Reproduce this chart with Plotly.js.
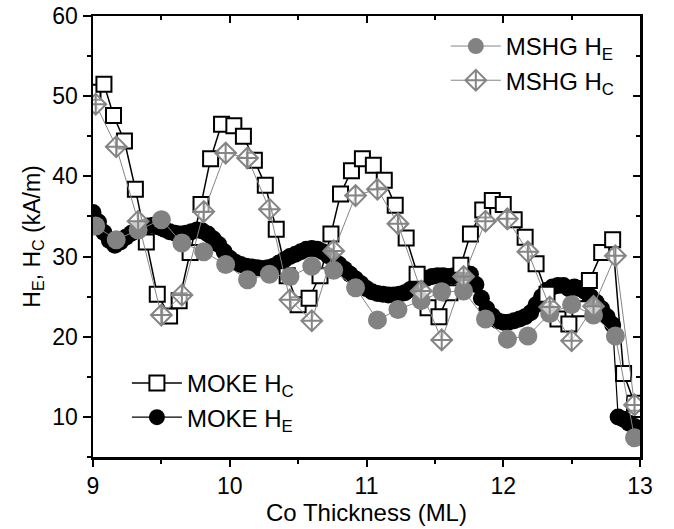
<!DOCTYPE html>
<html>
<head>
<meta charset="utf-8">
<script src="https://cdn.plot.ly/plotly-3.0.1.min.js"></script>
<style>html,body{margin:0;padding:0;background:#fff;}#chart{width:674px;height:529px;}</style>
</head>
<body>
<div id="chart"></div>
<script>
// MOKE H_E (dense black circles)
const mokeHEx = [9.00,9.04,9.08,9.12,9.16,9.20,9.24,9.28,9.32,9.36,9.40,9.44,9.48,9.52,9.56,9.60,9.64,9.68,9.72,9.76,
  9.80,9.84,9.88,9.92,9.96,10.00,10.04,10.08,10.12,10.16,10.20,10.24,10.28,10.32,10.36,10.40,10.44,10.48,10.52,10.56,
  10.60,10.64,10.68,10.72,10.76,10.80,10.84,10.88,10.92,10.96,11.00,11.04,11.08,11.12,11.16,11.20,11.24,11.28,11.32,11.36,
  11.40,11.44,11.48,11.52,11.56,11.60,11.64,11.68,11.72,11.76,11.80,11.84,11.88,11.92,11.96,12.00,12.04,12.08,12.12,12.16,
  12.20,12.24,12.28,12.32,12.36,12.40,12.44,12.48,12.52,12.56,12.60,12.64,12.68,12.72,12.76,12.80,12.84,12.88,12.92,12.96];
const mokeHEy = [35.5,34.3,33.0,32.0,31.4,31.8,32.4,32.9,33.3,33.6,33.8,33.9,33.7,33.4,33.1,32.9,32.8,32.9,33.1,33.3,
  33.2,32.8,32.2,31.5,30.6,29.8,29.3,29.0,28.8,28.7,28.6,28.5,28.6,28.8,29.2,29.6,30.0,30.3,30.6,30.9,
  31.0,30.9,30.6,30.1,29.6,29.0,28.4,27.8,27.2,26.6,26.0,25.6,25.4,25.3,25.2,25.2,25.3,25.5,25.9,26.4,
  27.0,27.3,27.5,27.6,27.6,27.5,27.6,27.8,28.0,27.8,26.5,24.8,23.5,22.6,22.0,21.8,21.8,22.0,22.2,22.5,
  23.0,24.0,25.0,25.8,26.2,26.4,26.4,26.0,26.2,26.0,25.6,25.0,24.3,23.5,22.5,21.5,10.0,9.7,9.2,8.8];

// MOKE H_C (open squares)
const mokeHCx = [9.00,9.08,9.15,9.23,9.31,9.39,9.47,9.56,9.63,9.71,9.79,9.86,9.94,10.03,10.10,10.18,10.26,10.34,10.42,10.50,
  10.58,10.66,10.74,10.81,10.89,10.97,11.05,11.13,11.21,11.29,11.37,11.45,11.53,11.61,11.69,11.76,11.85,11.92,12.00,12.08,
  12.16,12.24,12.32,12.40,12.48,12.56,12.63,12.72,12.80,12.88,12.96];
const mokeHCy = [50.5,51.5,47.6,44.4,38.4,31.8,25.3,22.6,24.5,30.5,36.5,42.2,46.5,46.3,45.0,42.0,38.9,33.4,27.6,24.0,
  24.8,27.6,32.8,37.8,40.7,42.2,41.4,39.5,36.4,32.3,27.8,23.6,22.5,25.5,28.9,32.8,35.8,37.0,36.5,34.6,
  32.4,29.1,25.3,22.2,21.6,23.5,27.0,30.5,32.1,15.4,11.7];

// MSHG (gray) series
const mshgX = [9.02,9.17,9.33,9.50,9.65,9.81,9.97,10.13,10.29,10.44,10.60,10.76,10.92,11.08,11.23,11.40,11.55,11.71,11.87,12.03,
  12.18,12.34,12.50,12.66,12.82,12.96];
const mshgHEy = [33.8,32.1,33.3,34.6,31.7,30.6,29.0,27.1,27.8,27.5,28.8,28.3,26.1,22.1,23.4,24.5,25.6,25.7,22.2,19.7,
  20.1,22.9,24.0,22.7,20.1,7.4];
const mshgHCy = [49.0,43.7,34.4,22.7,25.2,35.6,42.9,42.3,35.9,24.6,22.0,30.7,37.6,38.4,34.1,25.7,19.6,27.5,34.4,34.7,
  30.6,23.7,19.5,23.8,30.1,11.5];

const names = ['MOKE H<sub>E</sub>','MOKE H<sub>C</sub>','MSHG H<sub>E</sub>','MSHG H<sub>C</sub>'];
const gray = '#858585';

const traces = [
  {x: mokeHEx, y: mokeHEy, name: names[0], type:'scatter', mode:'lines+markers', legend:'legend2',
   line:{color:'#000', width:1.2}, marker:{symbol:'circle', size:17, color:'#000'}},
  {x: mokeHCx, y: mokeHCy, name: names[1], type:'scatter', mode:'lines+markers', legend:'legend2',
   line:{color:'#000', width:1.5}, marker:{symbol:'square', size:15, color:'#fff', line:{color:'#000', width:2}}},
  {x: mshgX, y: mshgHEy, name: names[2], type:'scatter', mode:'lines+markers', legend:'legend',
   line:{color:gray, width:1}, marker:{symbol:'circle', size:19, color:'#828282'}},
  {x: mshgX, y: mshgHCy, name: names[3], type:'scatter', mode:'lines+markers', legend:'legend',
   line:{color:gray, width:1}, marker:{symbol:'diamond-cross', size:16, color:'rgba(255,255,255,0.6)', line:{color:gray, width:2}}},
  {x:[null], y:[null], xaxis:'x2', yaxis:'y2', showlegend:false, hoverinfo:'skip', mode:'markers'}
];

const FAM = 'Liberation Sans, Arial, sans-serif';
const fnt = {family:FAM, size:23, color:'#000'};
const lfnt = {family:FAM, size:24, color:'#000'};
const tfnt = {family:FAM, size:24, color:'#000'};

const layout = {
  width:674, height:529,
  margin:{l:93, r:34, t:16, b:72},
  paper_bgcolor:'#fff', plot_bgcolor:'#fff',
  font: fnt,
  showlegend:true,
  xaxis:{range:[9,13], dtick:1, tick0:9, ticks:'outside', ticklen:7, tickwidth:2, tickcolor:'#000',
    minor:{dtick:0.5, ticks:'outside', ticklen:4, tickwidth:2, tickcolor:'#000', showgrid:false},
    showline:true, linewidth:2.5, linecolor:'#000', mirror:true, showgrid:false, zeroline:false,
    tickfont:fnt, title:{text:'Co Thickness (ML)', font:tfnt, standoff:3}},
  yaxis:{range:[5,60], dtick:10, tick0:0, ticks:'outside', ticklen:8, tickwidth:2, tickcolor:'#000',
    minor:{dtick:5, ticks:'outside', ticklen:4, tickwidth:2, tickcolor:'#000', showgrid:false},
    showline:true, linewidth:2.5, linecolor:'#000', mirror:true, showgrid:false, zeroline:false,
    tickfont:fnt, title:{text:'H<sub>E</sub>, H<sub>C</sub> (kA/m)', font:fnt, standoff:6}},
  xaxis2:{overlaying:'x', side:'top', anchor:'y', range:[9,13], dtick:1, tick0:9, ticks:'inside', ticklen:7, tickwidth:2, tickcolor:'#000',
    minor:{dtick:0.5, ticks:'inside', ticklen:4, tickwidth:2, tickcolor:'#000'},
    showticklabels:false, showline:false, showgrid:false, zeroline:false},
  yaxis2:{overlaying:'y', side:'right', anchor:'x', range:[5,60], dtick:10, tick0:0, ticks:'inside', ticklen:7, tickwidth:2, tickcolor:'#000',
    minor:{dtick:5, ticks:'inside', ticklen:4, tickwidth:2, tickcolor:'#000'},
    showticklabels:false, showline:false, showgrid:false, zeroline:false},
  legend:{x:0.645, y:0.982, xanchor:'left', yanchor:'top', bgcolor:'rgba(0,0,0,0)', font:lfnt, itemwidth:50, traceorder:'normal'},
  legend2:{x:0.062, y:0.218, xanchor:'left', yanchor:'top', bgcolor:'rgba(0,0,0,0)', font:lfnt, itemwidth:50, traceorder:'reversed'}
};

Plotly.newPlot('chart', traces, layout, {displayModeBar:false, staticPlot:true});
</script>
</body>
</html>
